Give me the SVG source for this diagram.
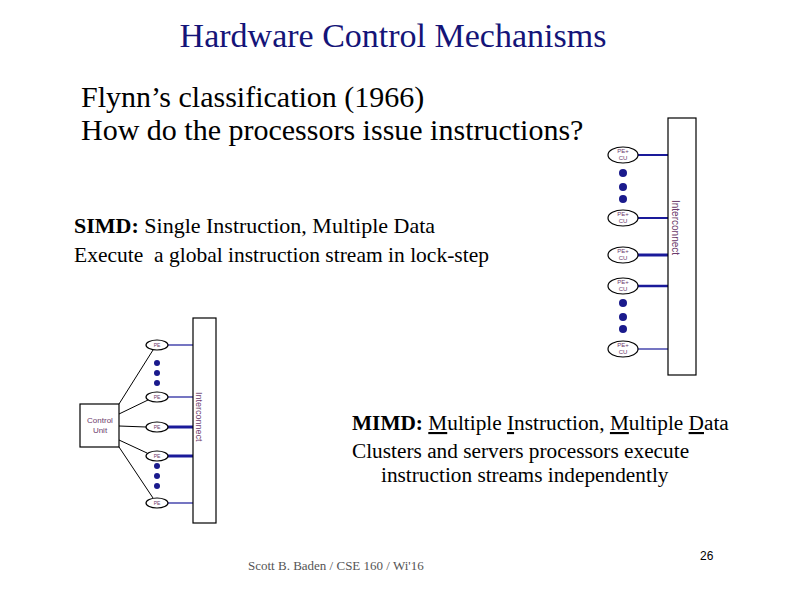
<svg xmlns="http://www.w3.org/2000/svg" width="792" height="612" viewBox="0 0 792 612">
<style>
.serif{font-family:"Liberation Serif","Times New Roman",serif;fill:#000}
.node{fill:#fff;stroke:#000;stroke-width:1.2}
.lbl{font-family:"Liberation Sans",Arial,sans-serif;fill:#6b3a6b}
.dot{fill:#1a1a8c}
.bl{stroke:#1a1a9a;fill:none}
.k{stroke:#000;stroke-width:1;fill:none}
</style>
<rect width="792" height="612" fill="#fff"/>
<text class="serif" x="393" y="47" font-size="34" text-anchor="middle" style="fill:#141478">Hardware Control  Mechanisms</text>
<text class="serif" x="81" y="107" font-size="30">Flynn’s classification (1966)</text>
<text class="serif" x="81" y="140" font-size="30">How do the processors issue instructions?</text>
<text class="serif" x="74" y="233" font-size="22"><tspan font-weight="bold">SIMD:</tspan> Single Instruction, Multiple Data</text>
<text class="serif" x="74" y="262" font-size="21.5" xml:space="preserve">Execute  a global instruction stream in lock-step</text>
<text class="serif" x="352" y="430" font-size="21.3"><tspan font-weight="bold">MIMD:</tspan> <tspan text-decoration="underline">M</tspan>ultiple <tspan text-decoration="underline">I</tspan>nstruction, <tspan text-decoration="underline">M</tspan>ultiple <tspan text-decoration="underline">D</tspan>ata</text>
<text class="serif" x="352" y="458" font-size="21.3">Clusters and servers processors execute</text>
<text class="serif" x="381" y="482" font-size="21.3">instruction streams independently</text>
<text class="serif" x="248" y="570" font-size="13" style="fill:#555">Scott B. Baden / CSE 160 / Wi'16</text>
<text x="700" y="560" font-size="12" font-family="Liberation Sans,Arial,sans-serif">26</text>

<g id="connectors">
  <line class="bl" x1="638" y1="155" x2="668" y2="155" stroke-width="2"/>
  <line class="bl" x1="638" y1="218" x2="668" y2="218" stroke-width="2"/>
  <line class="bl" x1="638" y1="255" x2="668" y2="255" stroke-width="3"/>
  <line class="bl" x1="638" y1="286" x2="668" y2="286" stroke-width="2.5"/>
  <line class="bl" x1="638" y1="349" x2="668" y2="349" stroke-width="1.2"/>
  <line class="bl" x1="168" y1="345" x2="193" y2="345" stroke-width="1.2"/>
  <line class="bl" x1="168" y1="397" x2="193" y2="397" stroke-width="1.2"/>
  <line class="bl" x1="168" y1="427" x2="193" y2="427" stroke-width="3"/>
  <line class="bl" x1="168" y1="456" x2="193" y2="456" stroke-width="3"/>
  <line class="bl" x1="168" y1="503" x2="193" y2="503" stroke-width="1.2"/>
  <line class="k" x1="119" y1="404" x2="153" y2="350"/>
  <line class="k" x1="119" y1="414" x2="148" y2="400"/>
  <line class="k" x1="119" y1="426" x2="146" y2="427"/>
  <line class="k" x1="119" y1="440" x2="147" y2="453"/>
  <line class="k" x1="119" y1="447" x2="153" y2="498"/>
</g>

<g id="simd-interconnect">
  <rect class="node" x="668" y="118" width="28" height="257"/>
  <text class="lbl" font-size="10" transform="translate(672,200) rotate(90)">Interconnect</text>
</g>
<g id="simd-pe1"><ellipse class="node" cx="623" cy="155" rx="15" ry="8"/><text class="lbl" font-size="6" x="623" y="153" text-anchor="middle">PE+</text><text class="lbl" font-size="6" x="623" y="160" text-anchor="middle">CU</text></g>
<g id="simd-dots1"><circle class="dot" cx="623" cy="173" r="4"/><circle class="dot" cx="623" cy="187" r="4"/><circle class="dot" cx="623" cy="199" r="4"/></g>
<g id="simd-pe2"><ellipse class="node" cx="623" cy="218" rx="15" ry="8"/><text class="lbl" font-size="6" x="623" y="216" text-anchor="middle">PE+</text><text class="lbl" font-size="6" x="623" y="223" text-anchor="middle">CU</text></g>
<g id="simd-pe3"><ellipse class="node" cx="623" cy="255" rx="15" ry="8"/><text class="lbl" font-size="6" x="623" y="253" text-anchor="middle">PE+</text><text class="lbl" font-size="6" x="623" y="260" text-anchor="middle">CU</text></g>
<g id="simd-pe4"><ellipse class="node" cx="623" cy="286" rx="15" ry="8"/><text class="lbl" font-size="6" x="623" y="284" text-anchor="middle">PE+</text><text class="lbl" font-size="6" x="623" y="291" text-anchor="middle">CU</text></g>
<g id="simd-dots2"><circle class="dot" cx="623" cy="303" r="4"/><circle class="dot" cx="623" cy="317" r="4"/><circle class="dot" cx="623" cy="329" r="4"/></g>
<g id="simd-pe5"><ellipse class="node" cx="623" cy="349" rx="15" ry="8"/><text class="lbl" font-size="6" x="623" y="347" text-anchor="middle">PE+</text><text class="lbl" font-size="6" x="623" y="354" text-anchor="middle">CU</text></g>

<g id="mimd-interconnect">
  <rect class="node" x="193" y="318" width="23" height="205"/>
  <text class="lbl" font-size="9" transform="translate(196,392) rotate(90)">Interconnect</text>
</g>
<g id="control-unit">
  <rect class="node" x="80" y="404" width="39" height="43"/>
  <text class="lbl" font-size="8" x="100" y="423" text-anchor="middle">Control</text>
  <text class="lbl" font-size="8" x="100" y="433" text-anchor="middle">Unit</text>
</g>
<g id="mimd-pe1"><ellipse class="node" cx="157" cy="345" rx="11" ry="5"/><text class="lbl" font-size="5" x="157" y="347" text-anchor="middle">PE</text></g>
<g id="mimd-dots1"><circle class="dot" cx="157" cy="363" r="3"/><circle class="dot" cx="157" cy="373" r="3"/><circle class="dot" cx="157" cy="383" r="3"/></g>
<g id="mimd-pe2"><ellipse class="node" cx="157" cy="397" rx="11" ry="5"/><text class="lbl" font-size="5" x="157" y="399" text-anchor="middle">PE</text></g>
<g id="mimd-pe3"><ellipse class="node" cx="157" cy="427" rx="11" ry="5"/><text class="lbl" font-size="5" x="157" y="429" text-anchor="middle">PE</text></g>
<g id="mimd-pe4"><ellipse class="node" cx="157" cy="456" rx="11" ry="5"/><text class="lbl" font-size="5" x="157" y="458" text-anchor="middle">PE</text></g>
<g id="mimd-dots2"><circle class="dot" cx="157" cy="466" r="3"/><circle class="dot" cx="157" cy="476" r="3"/><circle class="dot" cx="157" cy="486" r="3"/></g>
<g id="mimd-pe5"><ellipse class="node" cx="157" cy="503" rx="11" ry="5"/><text class="lbl" font-size="5" x="157" y="505" text-anchor="middle">PE</text></g>
</svg>
